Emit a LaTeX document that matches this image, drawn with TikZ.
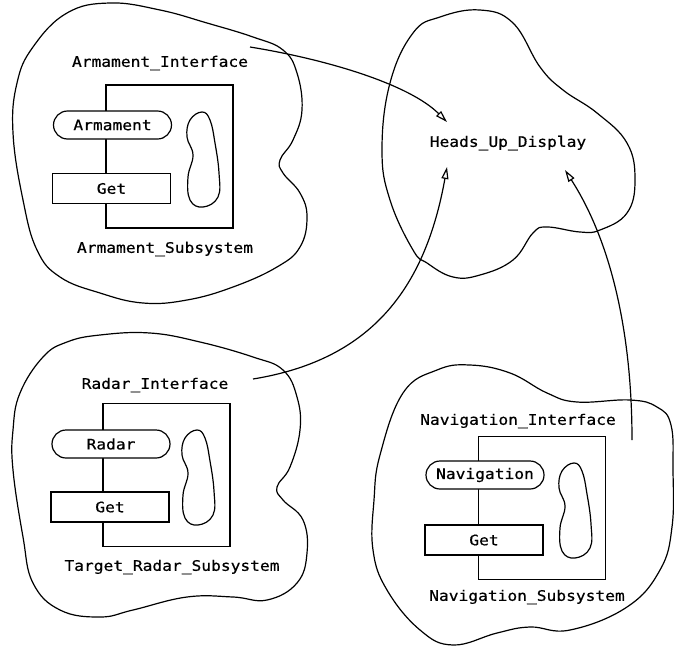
\documentclass[tikz,border=0pt]{standalone}
\usepackage{fontspec}
\newfontfamily\plotfont[FakeStretch=1.12, FakeBold=0.6]{DejaVu Sans Mono}
\usetikzlibrary{arrows.meta}

\begin{document}
\begin{tikzpicture}[x=1pt, y=-1pt, line width=1.2pt,
  every node/.style={font=\plotfont\fontsize{14.5}{16}\selectfont, inner sep=0pt},
  body/.style={draw, minimum width=127pt, minimum height=143pt},
  op/.style={draw, fill=white, minimum width=118pt, minimum height=30pt},
  entry/.style={op, minimum height=28pt, rounded corners=14pt},
  uses/.style={-{Triangle[open, length=12pt, width=7pt]}},
  blob/.pic={\draw plot[smooth cycle, tension=0.7] coordinates
    {(-1,-47) (-13,-39) (-16,-22) (-10,-4) (-15,18) (-13,41) (0,48) (15,38) (16,14) (12,-16) (7,-39)};}]
  \useasboundingbox (0,0) rectangle (674,651);

  % clouds
  \draw plot[smooth cycle, tension=0.7] coordinates {(110,3) (160,10) (207,23) (253,37) (283,50) (297,73) (302,110)
    (293,140) (280,160) (283,173) (300,193) (307,217) (300,247) (277,267) (233,287) (187,300) (143,303)
    (100,293) (60,277) (37,250) (23,200) (13,133) (17,83) (33,47) (67,13)};
  \draw plot[smooth cycle, tension=0.7] coordinates {(480,10) (513,23) (540,67) (563,90) (597,113) (627,143)
    (635,180) (627,213) (600,230) (580,232) (547,227) (533,233) (513,260) (480,275) (453,277) (427,263)
    (413,250) (390,200) (382,150) (390,83) (413,33) (440,17)};
  \draw plot[smooth cycle, tension=0.7] coordinates {(100,335) (150,333) (200,342) (253,357) (283,370) (297,397)
    (300,430) (290,467) (277,487) (283,500) (303,520) (307,553) (297,583) (267,600) (233,597) (187,597)
    (133,610) (100,617) (60,610) (33,583) (23,537) (13,470) (13,430) (20,393) (43,357) (67,342)};
  \draw plot[smooth cycle, tension=0.7] coordinates {(470,365) (510,373) (547,393) (577,402) (630,400) (657,407)
    (671,425) (673,470) (672,527) (660,570) (627,607) (570,630) (530,627) (497,633) (453,645) (420,630)
    (387,590) (373,550) (374,500) (380,455) (403,393) (437,370)};

  % armament
  \node (arm if) at (160,63) {Armament\_Interface};
  \node[body] (arm body) at (169.5,156.5) {};
  \node[entry] (arm entry) at (112.5,125) {Armament};
  \node[op] (arm get) at (111.5,188.5) {Get};
  \pic at (203,159) {blob};
  \node (arm sub) at (165,249) {Armament\_Subsystem};

  % radar
  \node (rad if) at (155,385) {Radar\_Interface};
  \node[body] (rad body) at (166.5,475) {};
  \node[entry] (rad entry) at (111,444) {Radar};
  \node[op] (rad get) at (110,507) {Get};
  \pic at (198,477) {blob};
  \node (rad sub) at (172,567) {Target\_Radar\_Subsystem};

  % navigation
  \node (nav if) at (518,421) {Navigation\_Interface};
  \node[body] (nav body) at (542,508) {};
  \node[entry] (nav entry) at (485,475) {Navigation};
  \node[op] (nav get) at (484,540) {Get};
  \pic at (575,510) {blob};
  \node (nav sub) at (527,597) {Navigation\_Subsystem};

  % display
  \node (hud) at (508,143) {Heads\_Up\_Display};

  \coordinate (arm out) at (250,47);
  \coordinate (rad out) at (253,379);
  \coordinate (nav out) at (632,440);
  \coordinate (hud a) at (447,122);
  \coordinate (hud b) at (447,167);
  \coordinate (hud c) at (565,170);

  \draw[uses] (arm out) .. controls (330,60) and (410,85) .. (hud a);
  \draw[uses] (rad out) .. controls (370,360) and (425,290) .. (hud b);
  \draw[uses] (nav out) .. controls (632,330) and (610,240) .. (hud c);
\end{tikzpicture}
\end{document}
